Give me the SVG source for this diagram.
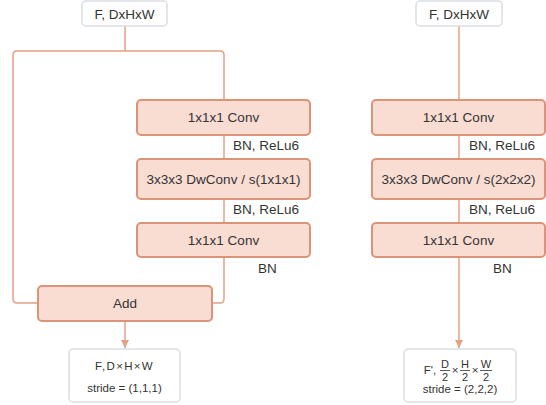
<svg xmlns="http://www.w3.org/2000/svg" width="546" height="405" viewBox="0 0 546 405">
  <style>
    text { font-family: "Liberation Sans", Arial, sans-serif; fill: #333333; }
    .op rect { fill: #f9ddd3; stroke: #dc9478; stroke-width: 2; }
    .io rect { fill: #ffffff; stroke: #d9dee4; stroke-width: 1.5; }
    .t { font-size: 13.5px; text-anchor: middle; }
    .lbl { font-size: 13.5px; }
    .small { font-size: 11.5px; text-anchor: middle; }
    .frac { font-size: 11px; text-anchor: middle; }
    .wire { fill: none; stroke: #e3a184; stroke-width: 1.5; }
  </style>
  <defs>
    <marker id="arrow" viewBox="0 0 10 10" refX="10" refY="5" markerWidth="8" markerHeight="8" markerUnits="userSpaceOnUse" orient="auto">
      <path d="M0,0 L10,5 L0,10 Z" fill="#e3a184"/>
    </marker>
  </defs>

  <rect width="546" height="405" fill="#ffffff"/>

  <!-- connectors -->
  <g id="connectors">
    <!-- stride 1 block with residual -->
    <path class="wire" d="M125,26 V51 H17 Q13,51 13,55 V299 Q13,303 17,303 H38"/>
    <path class="wire" d="M125,51 H220 Q224,51 224,55 V100"/>
    <path class="wire" d="M224,135 V159"/>
    <path class="wire" d="M224,199 V223"/>
    <path class="wire" d="M224,257 V299 Q224,303 220,303 H212"/>
    <path class="wire" d="M125,321 V348" marker-end="url(#arrow)"/>
    <!-- stride 2 block -->
    <path class="wire" d="M459,26 V100"/>
    <path class="wire" d="M459,135 V159"/>
    <path class="wire" d="M459,199 V223"/>
    <path class="wire" d="M459,257 V348" marker-end="url(#arrow)"/>
  </g>

  <!-- edge labels -->
  <g id="labels">
    <text class="lbl" x="233" y="150">BN, ReLu6</text>
    <text class="lbl" x="233" y="214">BN, ReLu6</text>
    <text class="lbl" x="258" y="273">BN</text>
    <text class="lbl" x="469" y="150">BN, ReLu6</text>
    <text class="lbl" x="469" y="214">BN, ReLu6</text>
    <text class="lbl" x="493" y="273">BN</text>
  </g>

  <!-- left column: stride (1,1,1) -->
  <g id="in-left" class="io">
    <rect x="82" y="1" width="85" height="25" rx="4"/>
    <text class="t" x="124.5" y="18.5">F, DxHxW</text>
  </g>
  <g id="conv1-left" class="op">
    <rect x="137" y="100" width="173" height="35" rx="4"/>
    <text class="t" x="223.5" y="122">1x1x1 Conv</text>
  </g>
  <g id="dwconv-left" class="op">
    <rect x="137" y="159" width="173" height="40" rx="4"/>
    <text class="t" x="223.5" y="184">3x3x3 DwConv / s(1x1x1)</text>
  </g>
  <g id="conv2-left" class="op">
    <rect x="137" y="223" width="173" height="34" rx="4"/>
    <text class="t" x="223.5" y="245">1x1x1 Conv</text>
  </g>
  <g id="add" class="op">
    <rect x="38" y="286" width="174" height="35" rx="4"/>
    <text class="t" x="125" y="308">Add</text>
  </g>
  <g id="out-left" class="io">
    <rect x="69" y="349" width="111" height="53" rx="4"/>
    <text class="small" x="124.5" y="370" style="letter-spacing:1.3px">F,D×H×W</text>
    <text class="small" x="124.5" y="392">stride = (1,1,1)</text>
  </g>

  <!-- right column: stride (2,2,2) -->
  <g id="in-right" class="io">
    <rect x="416" y="1" width="86" height="25" rx="4"/>
    <text class="t" x="459" y="18.5">F, DxHxW</text>
  </g>
  <g id="conv1-right" class="op">
    <rect x="372" y="100" width="173" height="35" rx="4"/>
    <text class="t" x="458.5" y="122">1x1x1 Conv</text>
  </g>
  <g id="dwconv-right" class="op">
    <rect x="372" y="159" width="173" height="40" rx="4"/>
    <text class="t" x="458.5" y="184">3x3x3 DwConv / s(2x2x2)</text>
  </g>
  <g id="conv2-right" class="op">
    <rect x="372" y="223" width="173" height="34" rx="4"/>
    <text class="t" x="458.5" y="245">1x1x1 Conv</text>
  </g>
  <g id="out-right" class="io">
    <rect x="404" y="349" width="112" height="53" rx="4"/>
    <text class="small" x="430" y="374">F',</text>
    <text class="frac" x="445" y="368">D</text>
    <line x1="440" y1="370.5" x2="450" y2="370.5" stroke="#333333" stroke-width="0.8"/>
    <text class="frac" x="445" y="380.5">2</text>
    <text class="small" x="455" y="374">×</text>
    <text class="frac" x="465" y="368">H</text>
    <line x1="460" y1="370.5" x2="470" y2="370.5" stroke="#333333" stroke-width="0.8"/>
    <text class="frac" x="465" y="380.5">2</text>
    <text class="small" x="475" y="374">×</text>
    <text class="frac" x="486" y="368">W</text>
    <line x1="480" y1="370.5" x2="492" y2="370.5" stroke="#333333" stroke-width="0.8"/>
    <text class="frac" x="486" y="380.5">2</text>
    <text class="small" x="460" y="393">stride = (2,2,2)</text>
  </g>
</svg>
